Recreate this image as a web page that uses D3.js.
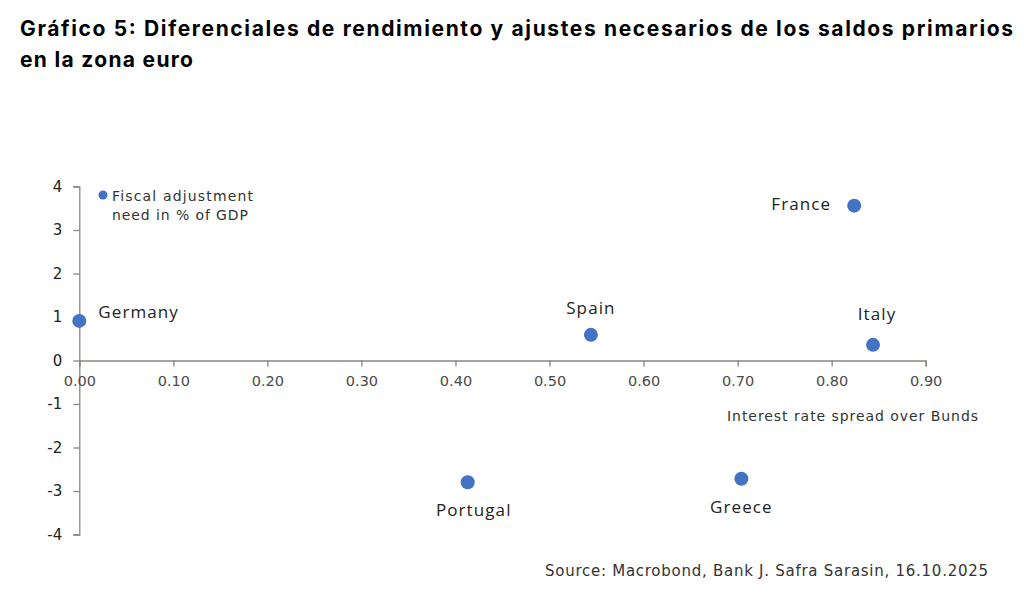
<!DOCTYPE html>
<html><head><meta charset="utf-8">
<script src="https://cdn.jsdelivr.net/npm/d3@7"></script>
<style>body{margin:0;background:#fff}svg{display:block}</style>
</head><body>
<script>
const titleLines = ["Gráfico 5: Diferenciales de rendimiento y ajustes necesarios de los saldos primarios", "en la zona euro"];
const countries = ["Germany", "Spain", "France", "Italy", "Portugal", "Greece"];
const spread = [0.00, 0.544, 0.824, 0.844, 0.413, 0.704];
const adjustment = [0.91, 0.59, 3.56, 0.36, -2.80, -2.72];
const labelPos = ["right", "above", "left", "above", "below", "below"];
const xTicks = [0, 0.1, 0.2, 0.3, 0.4, 0.5, 0.6, 0.7, 0.8, 0.9];
const yTicks = [4, 3, 2, 1, 0, -1, -2, -3, -4];
const legendLines = ["Fiscal adjustment", "need in % of GDP"];
const xAxisTitle = "Interest rate spread over Bunds";
const sourceText = "Source: Macrobond, Bank J. Safra Sarasin, 16.10.2025";

const W = 1024, H = 603;
const svg = d3.select("body").append("svg").attr("width", W).attr("height", H);
const x = d3.scaleLinear().domain([0, 0.9]).range([79.3, 925.7]);
const y = d3.scaleLinear().domain([-4, 4]).range([534.5, 186.5]);
const dotColor = "#4472C4", axisColor = "#8a8580", textColor = "#333";
const sansFont = "'DejaVu Sans', Verdana, sans-serif";

const titleWidths = [993, 173];
svg.append("g").selectAll("text").data(titleLines).join("text")
  .attr("x", 20).attr("y", (d, i) => 36 + i * 31)
  .attr("font-family", "Inter, Roboto, sans-serif").attr("font-weight", 700)
  .attr("font-size", 21).attr("fill", "#000")
  .attr("textLength", (d, i) => titleWidths[i]).attr("lengthAdjust", "spacing")
  .text(d => d);

// y axis
const yAxis = svg.append("g").attr("transform", `translate(${x(0)},0)`)
  .call(d3.axisLeft(y).tickValues(yTicks).tickFormat(d => String(d)).tickSize(6).tickPadding(11));
// x axis
const xAxis = svg.append("g").attr("transform", `translate(0,${y(0)})`)
  .call(d3.axisBottom(x).tickValues(xTicks).tickFormat(d => d.toFixed(2)).tickSize(6).tickPadding(9));
[xAxis, yAxis].forEach(g => {
  g.select(".domain").attr("stroke", axisColor).attr("stroke-width", 1.3);
  g.selectAll(".tick line").attr("stroke", axisColor).attr("stroke-width", 1.3);
  g.selectAll(".tick text").attr("font-family", sansFont);
});
xAxis.selectAll(".tick text").attr("font-size", 14.5).attr("fill", "#4a4a4a");
yAxis.selectAll(".tick text").attr("font-size", 15).attr("fill", "#222");

svg.append("text").attr("x", 727).attr("y", 421)
  .attr("font-family", sansFont).attr("font-size", 14)
  .attr("textLength", 251).attr("lengthAdjust", "spacing")
  .attr("fill", textColor).text(xAxisTitle);

// legend
svg.append("circle").attr("cx", 103).attr("cy", 195).attr("r", 4.5).attr("fill", dotColor);
const legendWidths = [141, 136];
svg.append("g").selectAll("text").data(legendLines).join("text")
  .attr("x", 112).attr("y", (d, i) => 201 + i * 19)
  .attr("font-family", sansFont).attr("font-size", 14)
  .attr("textLength", (d, i) => legendWidths[i]).attr("lengthAdjust", "spacing")
  .attr("fill", textColor).text(d => d);

// points
const data = countries.map((c, i) => ({c, x: spread[i], y: adjustment[i], pos: labelPos[i]}));
svg.append("g").selectAll("circle").data(data).join("circle")
  .attr("cx", d => x(d.x)).attr("cy", d => y(d.y)).attr("r", 7).attr("fill", dotColor);
svg.append("g").selectAll("text").data(data).join("text")
  .attr("x", d => d.pos === "right" ? x(d.x) + 19 : d.pos === "left" ? x(d.x) - 23 : x(d.x) + (d.c === "Italy" ? 4 : d.c === "Portugal" ? 6 : 0))
  .attr("y", d => d.pos === "right" ? y(d.y) - 3 : d.pos === "left" ? y(d.y) + 4 : d.pos === "above" ? y(d.y) - (d.c === "Italy" ? 25 : 21) : y(d.y) + 34)
  .attr("text-anchor", d => d.pos === "right" ? "start" : d.pos === "left" ? "end" : "middle")
  .attr("font-family", "'Open Sans', 'Noto Sans', sans-serif").attr("font-size", 17)
  .attr("letter-spacing", 1.1)
  .attr("fill", "#222").text(d => d.c);

svg.append("text").attr("x", 545).attr("y", 576)
  .attr("font-family", sansFont).attr("font-size", 15)
  .attr("textLength", 443).attr("lengthAdjust", "spacing")
  .attr("fill", textColor).text(sourceText);
</script>
</body></html>
